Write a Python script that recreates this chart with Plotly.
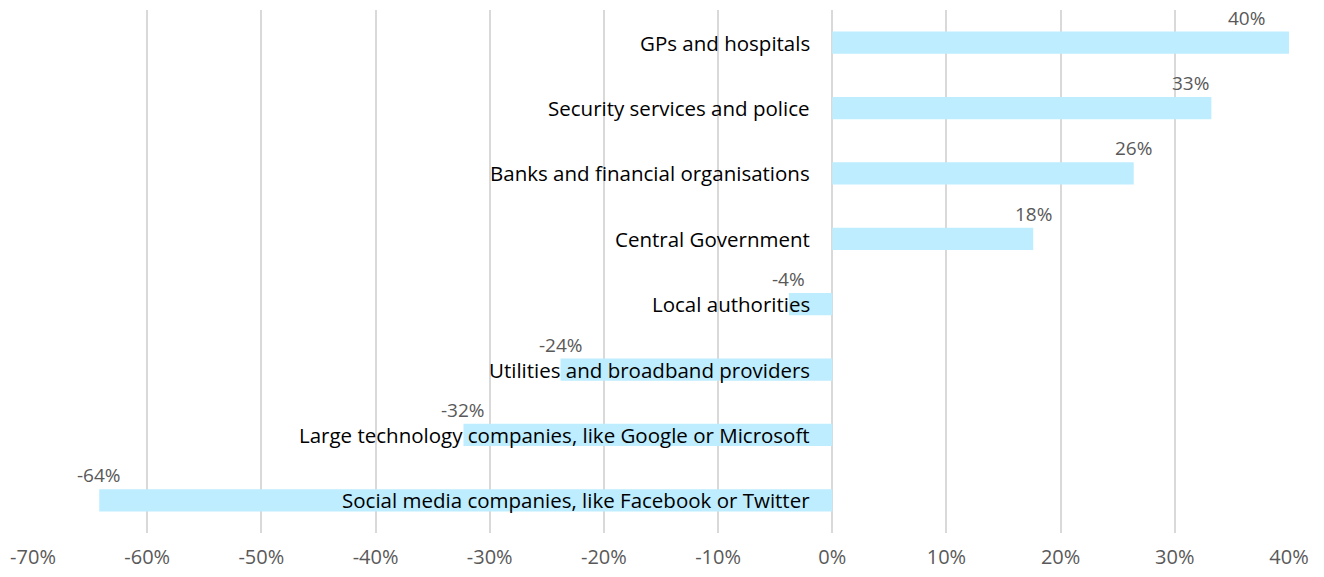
import plotly.graph_objects as go

categories = [
    "GPs and hospitals",
    "Security services and police",
    "Banks and financial organisations",
    "Central Government",
    "Local authorities",
    "Utilities and broadband providers",
    "Large technology companies, like Google or Microsoft",
    "Social media companies, like Facebook or Twitter",
]
values = [40.0, 33.2, 26.4, 17.6, -3.8, -23.8, -32.3, -64.2]
value_labels = ["40%", "33%", "26%", "18%", "-4%", "-24%", "-32%", "-64%"]
tick_vals = [-70, -60, -50, -40, -30, -20, -10, 0, 10, 20, 30, 40]
tick_text = ["-70%", "-60%", "-50%", "-40%", "-30%", "-20%", "-10%", "0%", "10%", "20%", "30%", "40%"]
label_anchor = ["right", "right", "center", "center", "center", "center", "center", "center"]
label_xshift = [-22, 0, 0, 0, 0, 0, 0, 0]

FONT = "Open Sans"

fig = go.Figure()
fig.add_trace(go.Bar(
    x=values, y=categories, orientation="h",
    marker=dict(color="#BDEDFF", line=dict(width=0)),
    width=0.34, hoverinfo="x+y",
))

annotations = []
for c, v, lab, anc, xs in zip(categories, values, value_labels, label_anchor, label_xshift):
    annotations.append(dict(
        x=v, y=c, text=lab, showarrow=False, xanchor=anc, yanchor="middle",
        xshift=xs, yshift=25, font=dict(family=FONT, size=19, color="#595959"),
    ))
    annotations.append(dict(
        x=0, y=c, text=c, showarrow=False, xanchor="right", yanchor="middle",
        xshift=-20, font=dict(family=FONT, size=20.5, color="#000000"),
    ))

fig.update_layout(
    width=1324, height=577,
    margin=dict(l=33, r=35, t=10, b=44, autoexpand=False),
    plot_bgcolor="white", paper_bgcolor="white",
    showlegend=False,
    annotations=annotations,
    xaxis=dict(
        range=[-70, 40], tickvals=tick_vals, ticktext=tick_text,
        showgrid=True, gridcolor="#D9D9D9", gridwidth=2,
        zeroline=False, showline=False, ticks="", automargin=False,
        ticklabelstandoff=10,
        tickfont=dict(family=FONT, size=20, color="#595959"),
        fixedrange=True,
    ),
    yaxis=dict(
        categoryorder="array", categoryarray=categories[::-1],
        showticklabels=False, showgrid=False, zeroline=False, automargin=False,
        range=[-0.5, len(categories) - 0.5], fixedrange=True,
    ),
    bargap=0.66,
)

fig.write_html(
    "out.html",
    config={"displayModeBar": False},
    post_script="document.body.style.margin='0';document.body.style.overflow='hidden';",
)
